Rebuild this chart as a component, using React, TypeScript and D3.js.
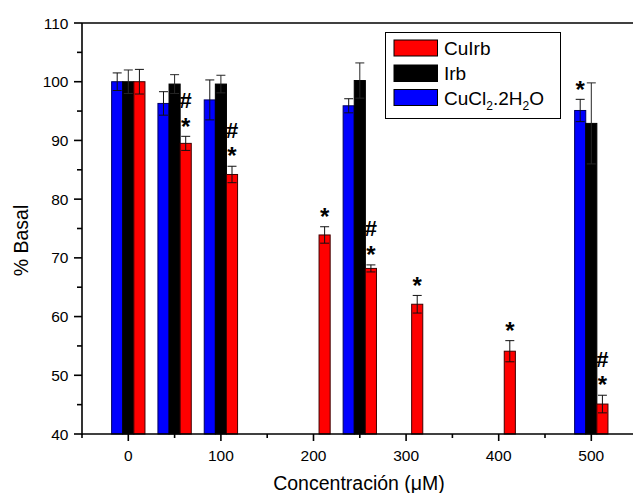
import React from "react";
import * as d3 from "d3";

const concentrations = [0, 50, 100, 200, 250, 300, 400, 500];
const cuIrbValues = [100, 89.5, 84.2, 73.9, 68.2, 62.1, 54.1, 45.1];
const cuIrbErrors = [2.1, 1.2, 1.4, 1.4, 0.6, 1.5, 1.8, 1.5];
const irbValues = [100, 99.6, 99.6, null, 100.2, null, null, 92.9];
const irbErrors = [2.0, 1.6, 1.5, null, 3.0, null, null, 6.9];
const cuclValues = [100, 96.3, 96.9, null, 95.9, null, null, 95.1];
const cuclErrors = [1.5, 2.0, 3.4, null, 1.2, null, null, 1.9];
const cuIrbMarks = ["", "#*", "#*", "*", "#*", "*", "*", "#*"];
const irbMarks = ["", "", "", "", "", "", "", ""];
const cuclMarks = ["", "", "", "", "", "", "", "*"];
const xTicks = [0, 100, 200, 300, 400, 500];
const xMinorTicks = [-50, 50, 150, 250, 350, 450, 550];
const yTicks = [40, 50, 60, 70, 80, 90, 100, 110];
const yMinorTicks = [45, 55, 65, 75, 85, 95, 105];

const series = [
  { name: "CuCl2.2H2O", values: cuclValues, errors: cuclErrors, marks: cuclMarks, offset: -12, fill: "#0000ff", stroke: "#000060", err: "#111" },
  { name: "Irb", values: irbValues, errors: irbErrors, marks: irbMarks, offset: 0, fill: "#000000", stroke: "#000000", err: "#262626" },
  { name: "CuIrb", values: cuIrbValues, errors: cuIrbErrors, marks: cuIrbMarks, offset: 12, fill: "#ff0000", stroke: "#400000", err: "#111" },
];

const FONT = "'Liberation Sans', Arial, sans-serif";

export default function App() {
  const left = 82, top = 23, bottom = 434;
  const x = d3.scaleLinear().domain([-50, 550]).range([left, left + 600 * 0.926]);
  const y = d3.scaleLinear().domain([40, 110]).range([bottom, top]);
  const barW = x(12) - x(0);
  const capW = 9;

  return (
    <svg width={633} height={493} style={{ position: "absolute", left: 0, top: 0, background: "#fff" }} fontFamily={FONT}>
      {/* bars */}
      {series.map((s) =>
        concentrations.map((c, i) => {
          const v = s.values[i];
          if (v == null) return null;
          const cx = x(c + s.offset);
          return (
            <rect key={s.name + i} x={cx - barW / 2} y={y(v)} width={barW} height={y(40) - y(v)}
              fill={s.fill} stroke={s.stroke} strokeWidth={1} />
          );
        })
      )}
      {/* error bars */}
      {series.map((s) =>
        concentrations.map((c, i) => {
          const v = s.values[i];
          const e = s.errors[i];
          if (v == null || e == null) return null;
          const cx = x(c + s.offset);
          return (
            <g key={"e" + s.name + i} stroke={s.err} strokeWidth={1}>
              <line x1={cx} x2={cx} y1={y(v + e)} y2={y(v - e)} />
              <line x1={cx - capW / 2} x2={cx + capW / 2} y1={y(v + e)} y2={y(v + e)} />
              <line x1={cx - capW / 2} x2={cx + capW / 2} y1={y(v - e)} y2={y(v - e)} />
            </g>
          );
        })
      )}
      {/* significance marks */}
      {series.map((s) =>
        concentrations.map((c, i) => {
          const m = s.marks[i];
          const v = s.values[i];
          if (!m || v == null) return null;
          const cx = x(c + s.offset);
          const errTop = y(v + (s.errors[i] || 0));
          const starC = errTop - 15.5;
          const hashC = starC - 21;
          return (
            <g key={"m" + s.name + i} fontWeight="bold" textAnchor="middle">
              {m.includes("*") && (
                <text x={cx} y={starC + 13.7} fontSize={24}>*</text>
              )}
              {m.includes("#") && (
                <text x={cx} y={hashC + 7.8} fontSize={22}>#</text>
              )}
            </g>
          );
        })
      )}
      {/* top frame line */}
      <line x1={left} x2={633} y1={top} y2={top} stroke="#000" strokeWidth={1.6} />
      {/* axes */}
      <line x1={left} x2={633} y1={bottom} y2={bottom} stroke="#000" strokeWidth={1.6} />
      <line x1={left} x2={left} y1={top} y2={bottom + 1} stroke="#000" strokeWidth={1.6} />
      {xTicks.map((t) => (
        <g key={"xt" + t}>
          <line x1={x(t)} x2={x(t)} y1={bottom} y2={bottom + 7} stroke="#000" strokeWidth={1.6} />
          <text x={x(t)} y={461} fontSize={15.5} textAnchor="middle">{t}</text>
        </g>
      ))}
      {xMinorTicks.map((t) => (
        <line key={"xm" + t} x1={x(t)} x2={x(t)} y1={bottom} y2={bottom + 4} stroke="#000" strokeWidth={1.6} />
      ))}
      {yTicks.map((t) => (
        <g key={"yt" + t}>
          <line x1={left - 8} x2={left} y1={y(t)} y2={y(t)} stroke="#000" strokeWidth={1.6} />
          <text x={68.5} y={y(t) + 5.5} fontSize={15.5} textAnchor="end">{t}</text>
        </g>
      ))}
      {yMinorTicks.map((t) => (
        <line key={"ym" + t} x1={left - 5} x2={left} y1={y(t)} y2={y(t)} stroke="#000" strokeWidth={1.6} />
      ))}
      {/* axis titles */}
      <text x={359} y={490} fontSize={19.5} textAnchor="middle">Concentración (μM)</text>
      <text transform="translate(27.5,240.5) rotate(-90)" fontSize={19.5} textAnchor="middle">% Basal</text>
      {/* legend */}
      <g>
        <rect x={385.5} y={32.5} width={175} height={86} fill="#fff" stroke="#000" strokeWidth={1} />
        <rect x={394} y={40} width={43.5} height={16} fill="#ff0000" stroke="#000" strokeWidth={1} />
        <text x={444} y={55} fontSize={19}>CuIrb</text>
        <rect x={394} y={65} width={43.5} height={16.5} fill="#000000" stroke="#000" strokeWidth={1} />
        <text x={444} y={80} fontSize={19}>Irb</text>
        <rect x={394} y={89.5} width={43.5} height={16} fill="#0000ff" stroke="#000" strokeWidth={1} />
        <text x={444} y={104.5} fontSize={19}>
          CuCl<tspan fontSize={12} dy={5}>2</tspan><tspan dy={-5}>.2H</tspan><tspan fontSize={12} dy={5}>2</tspan><tspan dy={-5}>O</tspan>
        </text>
      </g>
    </svg>
  );
}
